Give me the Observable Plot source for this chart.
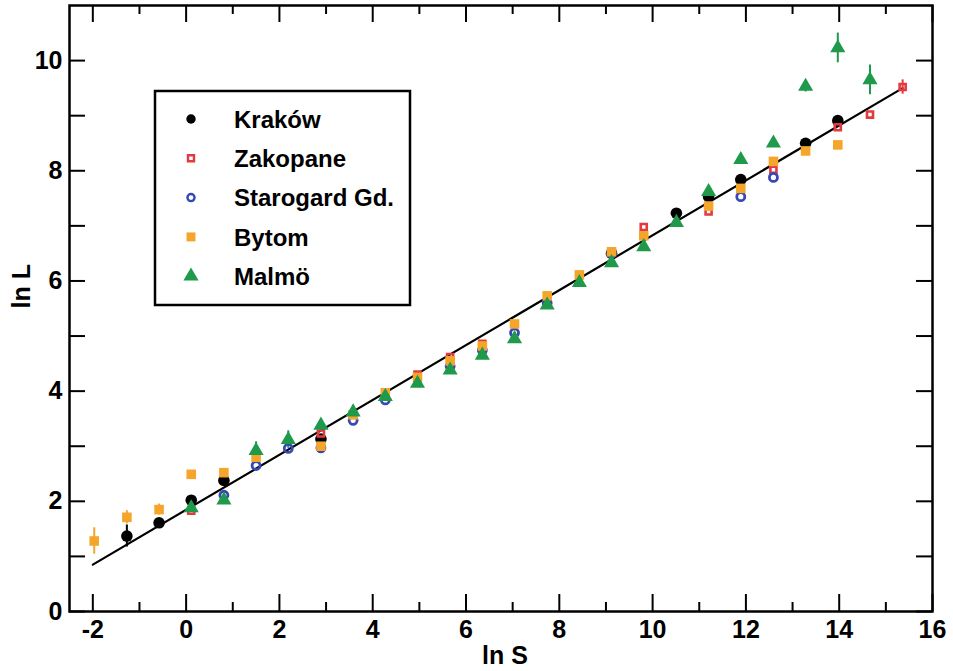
<!DOCTYPE html>
<html><head><meta charset="utf-8">
<script src="https://cdn.jsdelivr.net/npm/d3@7"></script>
<script src="https://cdn.jsdelivr.net/npm/@observablehq/plot@0.6"></script>
<style>
body{margin:0;background:#fff;}
#chart svg{display:block;}
</style>
</head><body><div id="chart"></div>
<script>
// ---- data ----
const seriesNames = ["Kraków", "Zakopane", "Starogard Gd.", "Bytom", "Malmö"];
const seriesColors = ["#000000", "#e23a3f", "#3548b5", "#f5a52a", "#1e9a4a"];

const krakowS = [-1.27, -0.58, 0.11, 0.81, 2.89, 9.12, 10.51, 11.20, 11.89, 13.28, 13.97];
const krakowL = [1.37, 1.61, 2.02, 2.38, 3.13, 6.50, 7.23, 7.53, 7.84, 8.50, 8.91];
const krakowE = [0.20, 0.05, 0.05, 0.05, 0.05, 0.05, 0.05, 0.05, 0.05, 0.05, 0.05];

const zakopaneS = [0.11, 2.89, 4.96, 5.66, 6.35, 9.81, 11.20, 12.59, 13.97, 14.66, 15.36];
const zakopaneL = [1.83, 3.23, 4.30, 4.62, 4.86, 6.98, 7.26, 8.02, 8.79, 9.02, 9.52];
const zakopaneE = [0.05, 0.05, 0.05, 0.05, 0.05, 0.05, 0.05, 0.05, 0.05, 0.05, 0.13];

const starogardS = [0.81, 1.50, 2.19, 2.89, 3.58, 4.27, 5.66, 6.35, 7.04, 7.74, 9.12, 11.89, 12.59];
const starogardL = [2.11, 2.65, 2.96, 2.97, 3.47, 3.84, 4.45, 4.74, 5.06, 5.60, 6.50, 7.53, 7.88];
const starogardE = [0.05, 0.05, 0.05, 0.05, 0.05, 0.05, 0.05, 0.05, 0.05, 0.05, 0.05, 0.05, 0.05];

const bytomS = [-1.97, -1.27, -0.58, 0.11, 0.81, 1.50, 2.89, 3.58, 4.27, 4.96, 5.66, 6.35, 7.04, 7.74, 8.43, 9.12, 9.81, 11.20, 11.89, 12.59, 13.28, 13.97];
const bytomL = [1.28, 1.71, 1.85, 2.49, 2.52, 2.80, 3.00, 3.57, 3.97, 4.25, 4.55, 4.82, 5.22, 5.73, 6.11, 6.53, 6.82, 7.36, 7.68, 8.17, 8.36, 8.47];
const bytomE = [0.24, 0.12, 0.10, 0.05, 0.05, 0.05, 0.05, 0.05, 0.05, 0.05, 0.05, 0.05, 0.05, 0.05, 0.05, 0.05, 0.05, 0.05, 0.05, 0.05, 0.05, 0.05];

const malmoS = [0.11, 0.81, 1.50, 2.19, 2.89, 3.58, 4.27, 4.96, 5.66, 6.35, 7.04, 7.74, 8.43, 9.12, 9.81, 10.51, 11.20, 11.89, 12.59, 13.28, 13.97, 14.66];
const malmoL = [1.88, 2.02, 2.92, 3.12, 3.38, 3.62, 3.90, 4.14, 4.38, 4.65, 4.95, 5.56, 5.97, 6.33, 6.62, 7.06, 7.62, 8.20, 8.50, 9.53, 10.23, 9.65];
const malmoE = [0.05, 0.05, 0.16, 0.16, 0.05, 0.05, 0.05, 0.05, 0.05, 0.05, 0.05, 0.05, 0.05, 0.05, 0.05, 0.05, 0.08, 0.05, 0.05, 0.10, 0.27, 0.27];

// fitted line endpoints
const fitS = [-2.0, 15.36];
const fitL = [0.85, 9.50];

// axis ticks
const xMajor = [-2, 0, 2, 4, 6, 8, 10, 12, 14, 16];
const xMinor = [-1, 1, 3, 5, 7, 9, 11, 13, 15];
const yMajor = [0, 2, 4, 6, 8, 10];
const yMinor = [1, 3, 5, 7, 9];

// ---- build tables ----
const toRows = (S, L, E) => S.map((s, i) => ({s, l: L[i], e: E[i]}));
const series = [
  {rows: toRows(krakowS, krakowL, krakowE), symbol: "circle", fill: seriesColors[0], stroke: "none", r: 5.8, sw: 0},
  {rows: toRows(zakopaneS, zakopaneL, zakopaneE), symbol: "square", fill: "none", stroke: seriesColors[1], r: 3.4, sw: 2.6},
  {rows: toRows(starogardS, starogardL, starogardE), symbol: "circle", fill: "none", stroke: seriesColors[2], r: 4.0, sw: 2.8},
  {rows: toRows(bytomS, bytomL, bytomE), symbol: "square", fill: seriesColors[3], stroke: "none", r: 5.4, sw: 0},
  {rows: toRows(malmoS, malmoL, malmoE), symbol: "triangle", fill: seriesColors[4], stroke: "none", r: 5.6, sw: 0}
];
const fitRows = fitS.map((s, i) => ({s, l: fitL[i]}));

const W = 953, H = 671;
const mL = 69, mR = 21, mT = 5, mB = 60;
const plotW = W - mL - mR, plotH = H - mT - mB;
const tickFont = "'Liberation Sans', Arial, Helvetica, sans-serif";

const marks = [
  Plot.frame({stroke: "black", strokeWidth: 2.5}),
  // inward ticks bottom/top
  Plot.tickX(xMajor, {x: d => d, insetTop: plotH - 17, strokeWidth: 2}),
  Plot.tickX(xMinor, {x: d => d, insetTop: plotH - 9, strokeWidth: 2}),
  Plot.tickX(xMajor, {x: d => d, insetBottom: plotH - 17, strokeWidth: 2}),
  Plot.tickX(xMinor, {x: d => d, insetBottom: plotH - 9, strokeWidth: 2}),
  // inward ticks left/right
  Plot.tickY(yMajor, {y: d => d, insetRight: plotW - 16, strokeWidth: 2}),
  Plot.tickY(yMinor, {y: d => d, insetRight: plotW - 16, strokeWidth: 2}),
  Plot.tickY(yMajor, {y: d => d, insetLeft: plotW - 16, strokeWidth: 2}),
  Plot.tickY(yMinor, {y: d => d, insetLeft: plotW - 16, strokeWidth: 2}),
  Plot.axisX({ticks: xMajor, tickSize: 0, tickPadding: 9, tickFormat: d => String(d), label: null,
    fontSize: 25, fontWeight: "bold", fontFamily: tickFont}),
  Plot.axisY({ticks: yMajor, tickSize: 0, tickPadding: 7, tickFormat: d => String(d), label: null,
    fontSize: 25, fontWeight: "bold", fontFamily: tickFont}),
  Plot.text(["ln S"], {frameAnchor: "bottom", dy: 52, fontSize: 25, fontWeight: "bold", fontFamily: tickFont, dx: 4}),
  Plot.text(["ln L"], {frameAnchor: "left", dx: -48, rotate: -90, fontSize: 25, fontWeight: "bold", fontFamily: tickFont}),
  // fit line
  Plot.line(fitRows, {x: "s", y: "l", stroke: "black", strokeWidth: 2.2})
];
for (const sr of series) {
  marks.push(Plot.ruleX(sr.rows.filter(d => d.e > 0.09), {x: "s", y1: d => d.l - d.e, y2: d => d.l + d.e,
    stroke: sr.fill !== "none" ? sr.fill : sr.stroke, strokeWidth: 2}));
}
for (const sr of series) {
  marks.push(Plot.dot(sr.rows, {x: "s", y: "l", symbol: sr.symbol, r: sr.r, fill: sr.fill,
    stroke: sr.stroke, strokeWidth: sr.sw}));
}

const plot = Plot.plot({
  width: W, height: H,
  marginLeft: mL, marginRight: mR, marginTop: mT, marginBottom: mB,
  x: {domain: [-2.5, 16], axis: null},
  y: {domain: [0, 11], axis: null},
  style: {background: "white", color: "black", overflow: "visible"},
  marks
});
document.getElementById("chart").appendChild(plot);

// ---- legend inside the frame ----
const svg = d3.select(plot);
const lg = svg.append("g").attr("text-anchor", "start");
lg.append("rect").attr("x", 155).attr("y", 91).attr("width", 255).attr("height", 214)
  .attr("fill", "white").attr("stroke", "black").attr("stroke-width", 2.5);
const legendSym = [
  {type: d3.symbolCircle, size: 70, fill: seriesColors[0], stroke: "none", sw: 0},
  {type: d3.symbolSquare, size: 36, fill: "none", stroke: seriesColors[1], sw: 2.4},
  {type: d3.symbolCircle, size: 40, fill: "none", stroke: seriesColors[2], sw: 2.4},
  {type: d3.symbolSquare, size: 80, fill: seriesColors[3], stroke: "none", sw: 0},
  {type: d3.symbolTriangle, size: 100, fill: seriesColors[4], stroke: "none", sw: 0}
];
seriesNames.forEach((name, i) => {
  const cy = 119 + i * 39.3;
  const s = legendSym[i];
  lg.append("path").attr("d", d3.symbol(s.type, s.size)())
    .attr("transform", `translate(191,${cy})`)
    .attr("fill", s.fill).attr("stroke", s.stroke).attr("stroke-width", s.sw);
  lg.append("text").attr("x", 234).attr("y", cy).attr("dy", "0.36em")
    .attr("text-anchor", "start")
    .attr("font-family", "'Liberation Sans', Arial, Helvetica, sans-serif")
    .attr("font-weight", "bold").attr("font-size", 24).attr("fill", "black")
    .text(name);
});
</script>
</body></html>
